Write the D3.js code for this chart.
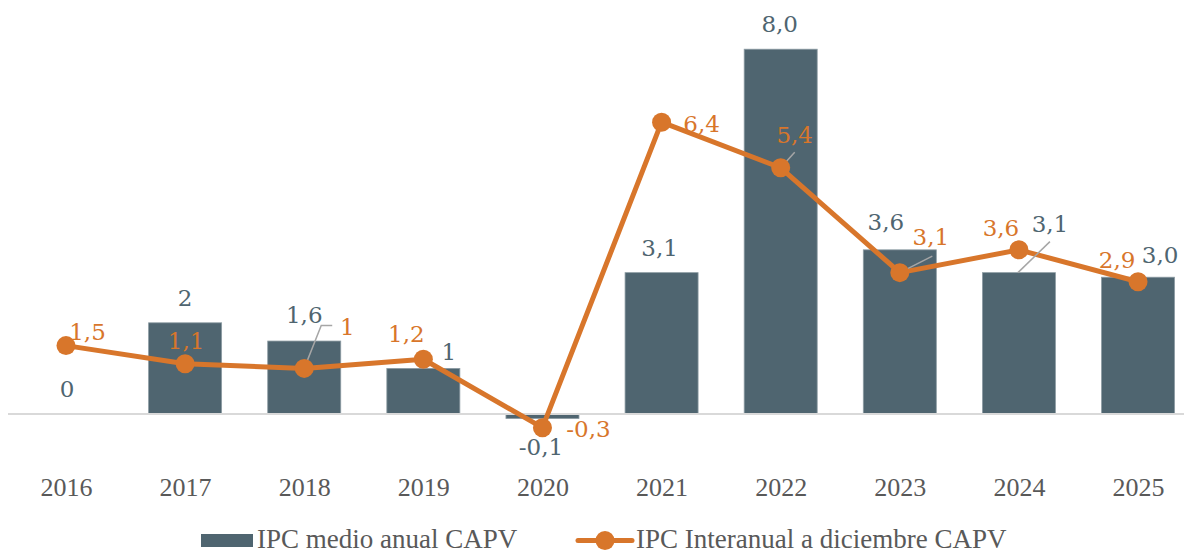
<!DOCTYPE html>
<html>
<head>
<meta charset="utf-8">
<script src="https://cdn.jsdelivr.net/npm/d3@7"></script>
<style>
  html, body { margin: 0; padding: 0; background: #ffffff; }
  svg { display: block; }
</style>
</head>
<body>
<svg id="chart" width="1184" height="553"></svg>
<script>
// ---- Data ----
const years = ["2016","2017","2018","2019","2020","2021","2022","2023","2024","2025"];
const ipcMedio = [0, 2, 1.6, 1, -0.1, 3.1, 8.0, 3.6, 3.1, 3.0];
const ipcMedioLabels = ["0","2","1,6","1","-0,1","3,1","8,0","3,6","3,1","3,0"];
const ipcInteranual = [1.5, 1.1, 1, 1.2, -0.3, 6.4, 5.4, 3.1, 3.6, 2.9];
const ipcInteranualLabels = ["1,5","1,1","1","1,2","-0,3","6,4","5,4","3,1","3,6","2,9"];
const seriesNames = ["IPC medio anual CAPV", "IPC Interanual a diciembre CAPV"];

// ---- Label layout (manual placement as in the original) ----
// [dx, dy from mark, leader line points (relative to mark) or null]
const barLabelLayout = [
  [1, -17, null], [0, -17, null], [0, -18, null], [25.5, -8, null], [-1.5, 36, null],
  [-2, -17, null], [-1, -17, null], [-14, -20, null], [31, -41, [[-1, 0], [31, -31]]], [22, -14, null]
];
const lineLabelLayout = [
  [21.5, -5.6, null], [1, -15, null], [43, -33, [[0, 0], [17, -43], [28, -43]]], [-17, -17, null], [46, 9, null],
  [40, 10, null], [14, -25, [[0, 0], [14, -15.5]]], [31, -28, [[0, 0], [32.5, -16.5]]], [-18, -14, null], [-21, -14, null]
];

const W = 1184, H = 553;
const barColor = "#4F6570";
const lineColor = "#D8762B";
const textGray = "#595959";

const svg = d3.select("#chart");

const x = d3.scalePoint().domain(years).range([6.44, 1197.6]).padding(0.5);
const step = x.step();
const barW = step * 0.613;
const y = d3.scaleLinear().domain([-1, 9]).range([459.6, 3.6]);

// bars
svg.append("g").selectAll("rect")
  .data(years)
  .join("rect")
  .attr("x", (d) => x(d) - barW / 2)
  .attr("width", barW)
  .attr("y", (d, i) => Math.min(y(ipcMedio[i]), y(0)))
  .attr("height", (d, i) => Math.abs(y(ipcMedio[i]) - y(0)))
  .attr("fill", barColor)
  .attr("stroke", "#8d9ca3")
  .attr("stroke-width", 0.8);

// baseline (category axis)
const xAxis = d3.axisBottom(x).tickSize(0).tickPadding(0);
const axisG = svg.append("g").attr("transform", `translate(0,${y(0)})`).call(xAxis);
axisG.select(".domain").remove();
axisG.append("line")
  .attr("x1", 8).attr("x2", W).attr("y1", 0).attr("y2", 0)
  .attr("stroke", "#d9d9d9").attr("stroke-width", 2);
axisG.selectAll(".tick text")
  .attr("y", 82).attr("dy", null)
  .attr("fill", textGray)
  .style("font-family", "'Liberation Serif', serif")
  .style("font-size", "26px");

// line
const lineGen = d3.line()
  .x((d, i) => x(years[i]))
  .y((d) => y(d));
svg.append("path")
  .datum(ipcInteranual)
  .attr("d", lineGen)
  .attr("fill", "none")
  .attr("stroke", lineColor)
  .attr("stroke-width", 5)
  .attr("stroke-linejoin", "round");

// leader lines
const leaderG = svg.append("g");
function drawLeader(px, py, pts) {
  leaderG.append("path")
    .attr("d", d3.line()(pts.map(p => [px + p[0], py + p[1]])))
    .attr("fill", "none")
    .attr("stroke", "#a6a6a6")
    .attr("stroke-width", 1.5);
}
years.forEach((yr, i) => {
  const bl = barLabelLayout[i];
  if (bl[2]) drawLeader(x(yr), y(ipcMedio[i]), bl[2]);
});

svg.append("g").selectAll("circle")
  .data(ipcInteranual)
  .join("circle")
  .attr("cx", (d, i) => x(years[i]))
  .attr("cy", (d) => y(d))
  .attr("r", 9.5)
  .attr("fill", lineColor);

years.forEach((yr, i) => {
  const ll = lineLabelLayout[i];
  if (ll[2]) drawLeader(x(yr), y(ipcInteranual[i]), ll[2]);
});

// data labels
const labelFont = "'DejaVu Serif', serif";
svg.append("g").selectAll("text")
  .data(years)
  .join("text")
  .attr("x", (d, i) => x(d) + barLabelLayout[i][0])
  .attr("y", (d, i) => y(ipcMedio[i]) + barLabelLayout[i][1])
  .attr("text-anchor", "middle")
  .attr("fill", barColor)
  .style("font-family", labelFont)
  .style("font-size", "23px")
  .text((d, i) => ipcMedioLabels[i]);

svg.append("g").selectAll("text")
  .data(years)
  .join("text")
  .attr("x", (d, i) => x(d) + lineLabelLayout[i][0])
  .attr("y", (d, i) => y(ipcInteranual[i]) + lineLabelLayout[i][1])
  .attr("text-anchor", "middle")
  .attr("fill", lineColor)
  .style("font-family", labelFont)
  .style("font-size", "23px")
  .text((d, i) => ipcInteranualLabels[i]);

// legend
const lg = svg.append("g");
lg.append("rect").attr("x", 201).attr("y", 534).attr("width", 52).attr("height", 13).attr("fill", barColor);
lg.append("text").attr("x", 257).attr("y", 548)
  .attr("fill", textGray)
  .style("font-family", "'Liberation Serif', serif").style("font-size", "27px")
  .text(seriesNames[0]);
lg.append("line").attr("x1", 578).attr("x2", 632).attr("y1", 540.5).attr("y2", 540.5)
  .attr("stroke", lineColor).attr("stroke-width", 5).attr("stroke-linecap", "round");
lg.append("circle").attr("cx", 605).attr("cy", 540.5).attr("r", 9.5).attr("fill", lineColor);
lg.append("text").attr("x", 636).attr("y", 548)
  .attr("fill", textGray)
  .style("font-family", "'Liberation Serif', serif").style("font-size", "27px")
  .text(seriesNames[1]);
</script>
</body>
</html>
